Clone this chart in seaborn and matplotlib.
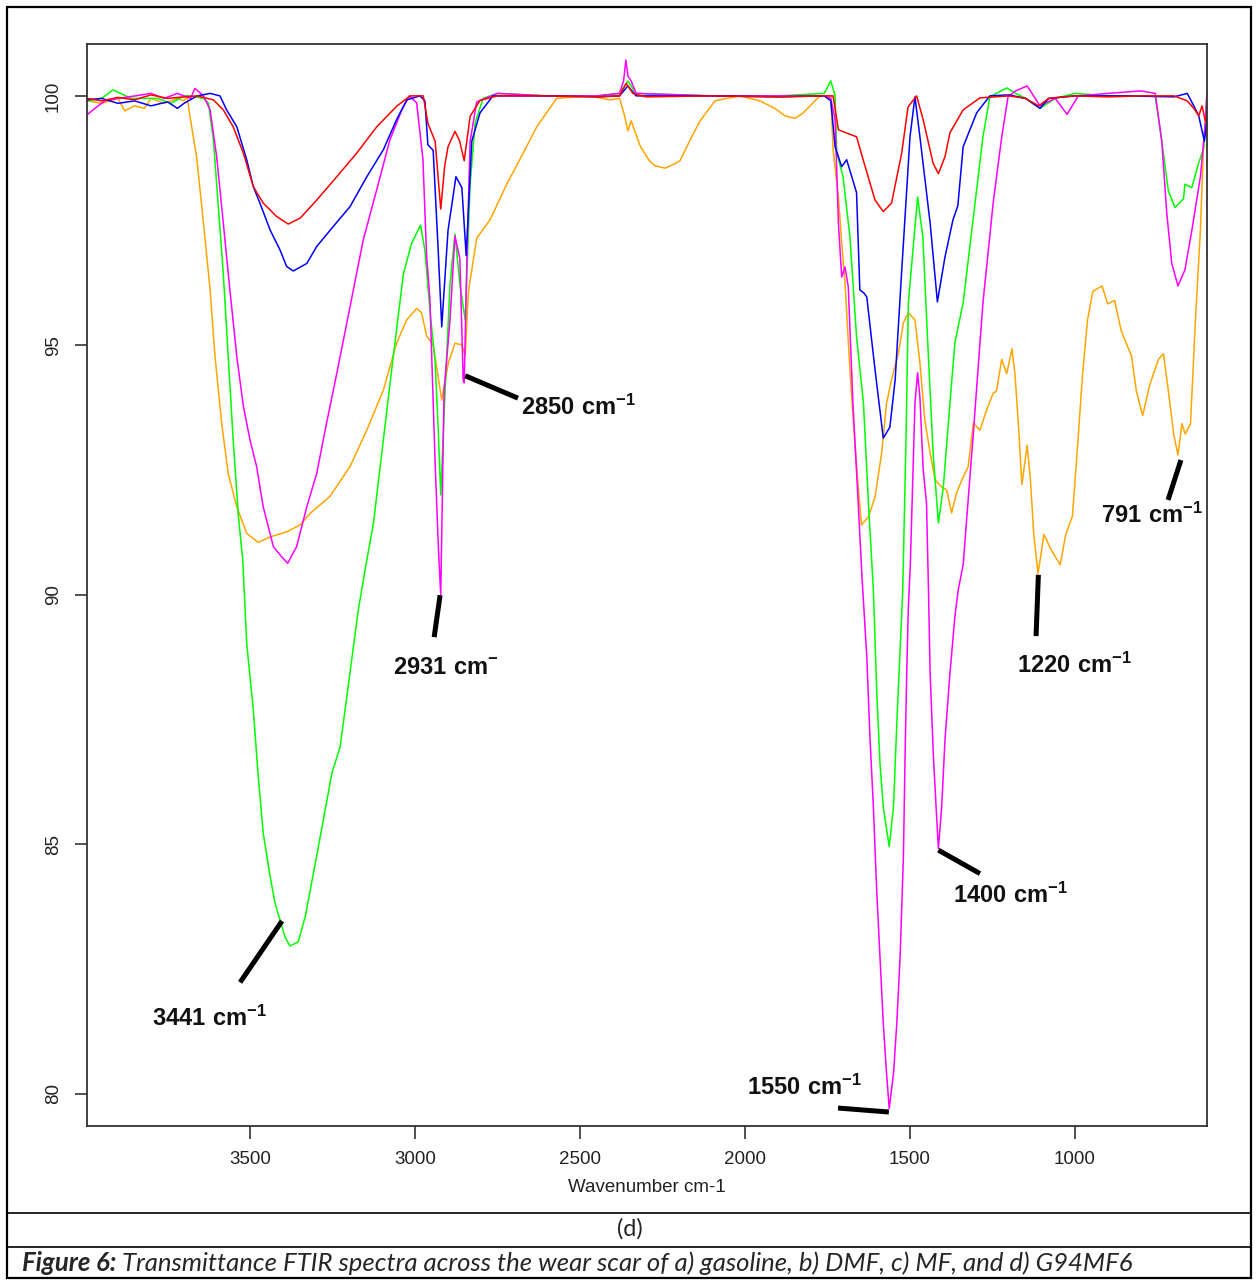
import numpy as np
import pandas as pd
import matplotlib
matplotlib.use('Agg')
import matplotlib.pyplot as plt
import seaborn as sns
from matplotlib.lines import Line2D
from matplotlib.patches import Rectangle

# spectra: wavenumber (cm-1) and transmittance (%)
red_wn = [3994, 3950, 3900, 3850, 3800, 3750, 3700, 3660, 3611, 3581, 3551, 3520, 3490, 3460, 3419,
          3384, 3348, 3298, 3237, 3177, 3116, 3056, 3015, 2975, 2961, 2939, 2922, 2910, 2900, 2879,
          2865, 2851, 2833, 2803, 2750, 2600, 2450, 2380, 2360, 2340, 2300, 2100, 1900, 1760, 1733,
          1717, 1690, 1662, 1642, 1606, 1581, 1556, 1525, 1506, 1480, 1460, 1430, 1414, 1394, 1379,
          1339, 1288, 1200, 1150, 1110, 1080, 1000, 900, 800, 700, 660, 640, 625, 615, 605, 600]
red_t = [99.95, 99.90, 99.97, 99.92, 100.02, 99.95, 99.98, 100.0, 99.92, 99.72, 99.38, 98.85, 98.18, 97.85, 97.58,
         97.43, 97.55, 97.91, 98.38, 98.85, 99.38, 99.79, 100.0, 100.0, 99.45, 99.09, 97.73, 98.6, 98.98, 99.29,
         99.1, 98.70, 99.59, 99.91, 100.0, 100.0, 99.98, 100.0, 100.25, 100.05, 99.98, 100.0, 99.98, 100.0, 100.0,
         99.32, 99.25, 99.18, 98.72, 97.91, 97.68, 97.85, 98.86, 99.78, 100.0, 99.52, 98.65, 98.44, 98.78, 99.26,
         99.72, 99.96, 100.0, 99.95, 99.80, 99.95, 100.0, 99.98, 100.0, 100.0, 99.9, 99.75, 99.6, 99.8, 99.5, 99.6]

blue_wn = [3994, 3950, 3900, 3850, 3800, 3750, 3720, 3700, 3660, 3621, 3591, 3571, 3540, 3510, 3490,
           3470, 3439, 3409, 3389, 3369, 3328, 3298, 3248, 3197, 3146, 3096, 3056, 3025, 2985, 2970,
           2961, 2945, 2930, 2919, 2900, 2876, 2858, 2845, 2828, 2803, 2764, 2600, 2450, 2380, 2355,
           2330, 2100, 1900, 1760, 1740, 1727, 1707, 1692, 1662, 1652, 1640, 1631, 1606, 1581, 1561,
           1545, 1525, 1500, 1485, 1470, 1439, 1417, 1394, 1370, 1355, 1339, 1298, 1258, 1200, 1150,
           1106, 1080, 1000, 850, 700, 660, 640, 625, 615, 608, 600]
blue_t = [99.92, 99.95, 99.85, 99.90, 99.80, 99.88, 99.75, 99.85, 100.0, 100.05, 100.0, 99.72, 99.38, 98.72, 98.18,
          97.85, 97.31, 96.91, 96.58, 96.49, 96.64, 96.98, 97.38, 97.78, 98.38, 98.92, 99.52, 99.92, 100.0, 99.9,
          99.02, 98.91, 96.94, 95.37, 97.30, 98.38, 98.16, 96.80, 99.09, 99.66, 100.0, 100.0, 99.98, 100.0, 100.2,
          100.0, 100.0, 99.98, 100.0, 99.9, 98.98, 98.58, 98.72, 98.06, 96.11, 96.05, 95.97, 94.51, 93.14, 93.36,
          94.31, 96.51, 99.18, 99.98, 99.18, 97.45, 95.87, 96.77, 97.51, 97.8, 98.98, 99.66, 100.0, 100.02, 99.95,
          99.75, 99.95, 100.0, 100.0, 99.98, 100.05, 99.8, 99.6, 99.3, 99.09, 99.5]

green_wn = [3994, 3950, 3915, 3860, 3780, 3740, 3700, 3682, 3640, 3626, 3611, 3596, 3581, 3566, 3551,
            3535, 3522, 3510, 3490, 3475, 3460, 3439, 3424, 3409, 3394, 3379, 3354, 3333, 3308, 3278,
            3252, 3227, 3212, 3192, 3172, 3146, 3126, 3096, 3066, 3035, 3010, 2983, 2970, 2955, 2939,
            2930, 2922, 2909, 2894, 2879, 2864, 2848, 2833, 2818, 2794, 2750, 2600, 2450, 2380, 2355,
            2330, 2100, 1900, 1760, 1740, 1727, 1722, 1703, 1682, 1662, 1641, 1626, 1611, 1601, 1591,
            1581, 1563, 1550, 1540, 1530, 1522, 1512, 1505, 1477, 1461, 1450, 1430, 1414, 1399, 1379,
            1364, 1339, 1309, 1279, 1258, 1207, 1180, 1150, 1106, 1060, 1000, 900, 800, 757, 737,
            717, 697, 671, 667, 646, 625, 610, 600]
green_t = [99.90, 99.95, 100.12, 99.95, 99.95, 99.85, 100.0, 100.0, 99.95, 99.85, 99.12, 97.78, 96.44, 94.77, 93.10,
           91.56, 90.70, 89.02, 87.69, 86.35, 85.22, 84.35, 83.81, 83.48, 83.14, 82.96, 83.04, 83.54, 84.41, 85.48,
           86.42, 86.95, 87.69, 88.69, 89.69, 90.70, 91.43, 93.10, 94.77, 96.44, 97.05, 97.41, 96.9, 95.72, 94.65,
           93.36, 92.0, 94.08, 96.22, 97.23, 96.22, 95.51, 98.23, 99.45, 99.95, 100.05, 100.0, 100.0, 100.05, 100.3,
           100.05, 100.0, 100.0, 100.05, 100.3, 100.0, 98.86, 98.38, 97.17, 95.17, 93.84, 91.84, 90.09, 88.09, 86.62,
           85.75, 84.95, 85.75, 87.42, 88.89, 90.09, 93.16, 95.85, 97.97, 97.17, 95.57, 92.84, 91.44, 92.16, 93.84,
           95.05, 95.85, 97.51, 99.18, 99.98, 100.16, 100.05, 99.95, 99.75, 99.95, 100.05, 100.0, 100.0, 100.0, 99.09,
           98.09, 97.76, 97.94, 98.23, 98.16, 98.66, 98.95, 100.0]

magenta_wn = [3994, 3970, 3940, 3900, 3848, 3800, 3760, 3720, 3680, 3667, 3641, 3621, 3601, 3581, 3561,
              3540, 3520, 3500, 3480, 3460, 3429, 3404, 3386, 3359, 3328, 3298, 3268, 3237, 3197, 3157,
              3116, 3076, 3040, 3017, 2995, 2976, 2965, 2955, 2939, 2929, 2922, 2912, 2894, 2879, 2864,
              2854, 2851, 2842, 2833, 2813, 2750, 2600, 2450, 2380, 2368, 2361, 2355, 2345, 2330, 2100,
              1900, 1760, 1740, 1727, 1717, 1707, 1697, 1687, 1673, 1657, 1645, 1631, 1621, 1611, 1601,
              1591, 1581, 1571, 1563, 1550, 1540, 1530, 1520, 1515, 1510, 1505, 1499, 1485, 1477, 1470,
              1460, 1450, 1444, 1439, 1429, 1421, 1414, 1404, 1394, 1379, 1364, 1354, 1339, 1309, 1279,
              1248, 1222, 1203, 1180, 1145, 1106, 1060, 1024, 990, 900, 800, 757, 737, 722, 707,
              688, 667, 646, 620, 605, 600]
magenta_t = [99.62, 99.75, 99.90, 99.95, 100.0, 100.05, 99.95, 100.05, 99.95, 100.15, 100.0, 99.72, 98.78, 97.45, 96.11,
             94.77, 93.77, 93.10, 92.57, 91.76, 90.96, 90.76, 90.63, 90.96, 91.76, 92.43, 93.44, 94.44, 95.77, 97.11,
             98.12, 99.12, 99.72, 100.0, 99.86, 98.73, 96.8, 95.94, 92.64, 90.92, 89.99, 94.08, 95.51, 97.19, 96.73,
             94.29, 94.25, 96.94, 99.09, 99.88, 100.05, 100.0, 100.0, 100.05, 100.3, 100.72, 100.4, 100.3, 100.05, 100.0,
             100.0, 100.0, 99.95, 99.52, 97.45, 96.37, 96.57, 96.17, 93.84, 91.84, 90.3, 88.76, 87.09, 85.75, 84.08,
             82.74, 81.41, 80.40, 79.70, 80.40, 81.41, 82.74, 84.75, 86.75, 88.42, 89.76, 90.6, 93.84, 94.45, 93.96,
             92.5, 91.84, 90.09, 88.42, 86.75, 85.75, 84.91, 85.75, 87.09, 88.42, 89.56, 90.09, 90.6, 93.16, 95.85,
             97.85, 99.18, 99.98, 100.1, 100.2, 99.8, 99.95, 99.63, 100.0, 100.05, 100.1, 100.05, 99.09, 97.66, 96.65,
             96.19, 96.51, 97.30, 98.38, 99.45, 100.1]

orange_wn = [3994, 3950, 3900, 3880, 3850, 3820, 3800, 3760, 3720, 3700, 3691, 3682, 3662, 3641, 3621,
             3606, 3586, 3566, 3540, 3510, 3475, 3439, 3389, 3348, 3318, 3258, 3197, 3146, 3096, 3056,
             3025, 2995, 2980, 2965, 2945, 2919, 2899, 2879, 2858, 2848, 2838, 2813, 2773, 2722, 2682,
             2631, 2571, 2470, 2409, 2380, 2365, 2355, 2345, 2318, 2290, 2273, 2242, 2210, 2197, 2160,
             2136, 2091, 2015, 1955, 1910, 1879, 1848, 1825, 1803, 1773, 1740, 1733, 1717, 1707, 1697,
             1682, 1672, 1657, 1647, 1626, 1606, 1586, 1571, 1556, 1535, 1520, 1505, 1485, 1470, 1455,
             1439, 1424, 1404, 1389, 1374, 1359, 1339, 1324, 1308, 1288, 1268, 1248, 1238, 1222, 1207,
             1191, 1182, 1171, 1161, 1145, 1135, 1125, 1112, 1094, 1074, 1045, 1028, 1008, 992, 977,
             962, 946, 918, 901, 880, 860, 829, 814, 795, 773, 747, 732, 717, 701, 688,
             676, 666, 650, 635, 620, 610, 600]
orange_t = [99.90, 99.85, 99.95, 99.70, 99.80, 99.75, 99.95, 99.85, 99.95, 99.9, 100.0, 99.59, 98.78, 97.45, 96.11,
            94.77, 93.44, 92.43, 91.76, 91.23, 91.05, 91.16, 91.26, 91.40, 91.63, 91.97, 92.57, 93.30, 94.10, 95.04,
            95.51, 95.74, 95.65, 95.19, 95.01, 93.9, 94.65, 95.04, 95.01, 94.79, 96.08, 97.15, 97.51, 98.23, 98.73,
            99.38, 99.95, 100.0, 99.92, 99.95, 99.6, 99.3, 99.5, 99.0, 98.7, 98.6, 98.55, 98.65, 98.7, 99.2,
            99.5, 99.9, 100.0, 99.9, 99.75, 99.6, 99.55, 99.65, 99.8, 100.0, 100.0, 98.92, 97.97, 97.05, 96.25,
            94.51, 93.5, 92.16, 91.4, 91.56, 91.96, 92.84, 93.84, 94.31, 94.85, 95.45, 95.65, 95.51, 94.65, 93.5,
            92.84, 92.3, 92.16, 92.1, 91.64, 92.04, 92.36, 92.56, 93.44, 93.3, 93.7, 94.04, 94.08, 94.72, 94.43,
            94.93, 94.43, 93.36, 92.21, 93.0, 92.29, 91.21, 90.42, 91.21, 90.92, 90.6, 91.21, 91.57, 93.0, 94.43,
            95.51, 96.08, 96.19, 95.83, 95.90, 95.29, 94.79, 94.08, 93.59, 94.22, 94.72, 94.83, 94.08, 93.22, 92.80,
            93.43, 93.22, 93.43, 95.51, 97.30, 99.09, 99.95]

series_order = ['orange', 'green', 'magenta', 'blue', 'red']
series_colors = {'red': '#FF0000', 'blue': '#0000FF', 'green': '#00FF00',
                 'magenta': '#FF00FF', 'orange': '#FFA500'}

x_ticks = [3500, 3000, 2500, 2000, 1500, 1000]
y_ticks = [80, 85, 90, 95, 100]

# peak labels: text, line from peak, line end, text anchor (left, centre)
peak_labels = [r'$\mathbf{3441\ cm^{-1}}$', r'$\mathbf{2931\ cm^{-}}$', r'$\mathbf{2850\ cm^{-1}}$',
               r'$\mathbf{1550\ cm^{-1}}$', r'$\mathbf{1400\ cm^{-1}}$', r'$\mathbf{1220\ cm^{-1}}$',
               r'$\mathbf{791\ cm^{-1}}$']
peak_lines = [(3403, 83.46, 3530, 82.23), (2924, 89.99, 2942, 89.15), (2848, 94.39, 2688, 93.94),
              (1718, 79.71, 1564, 79.63), (1414, 84.88, 1288, 84.41), (1111, 90.40, 1118, 89.17),
              (679, 92.70, 718, 91.90)]
peak_text_pos = [(3797, 81.51), (3067, 88.53), (2679, 93.76), (1994, 80.13),
                 (1370, 83.98), (1176, 88.59), (921, 91.60)]

frames = []
for name, wn, t in [('red', red_wn, red_t), ('blue', blue_wn, blue_t), ('green', green_wn, green_t),
                    ('magenta', magenta_wn, magenta_t), ('orange', orange_wn, orange_t)]:
    frames.append(pd.DataFrame({'wn': wn, 'T': t, 'series': name}))
df = pd.concat(frames, ignore_index=True)

sns.set_style('white')
plt.rcParams['font.family'] = ['Liberation Sans', 'DejaVu Sans']
plt.rcParams['mathtext.fontset'] = 'custom'
plt.rcParams['mathtext.rm'] = 'Liberation Sans'
plt.rcParams['mathtext.bf'] = 'Liberation Sans:bold'

fig = plt.figure(figsize=(12.6, 12.81), dpi=100)
ax = fig.add_axes([87 / 1260, 1 - 1126 / 1281, 1120 / 1260, 1082 / 1281])

sns.lineplot(data=df, x='wn', y='T', hue='series', hue_order=series_order, palette=series_colors,
             estimator=None, sort=False, legend=False, linewidth=1.1, ax=ax)

for (w1, t1, w2, t2), label, (tx, ty) in zip(peak_lines, peak_labels, peak_text_pos):
    ax.plot([w1, w2], [t1, t2], color='black', lw=3.6, solid_capstyle='butt')
    ax.text(tx, ty, label, fontsize=17, ha='left', va='center', color='#111111')

ax.set_xlim(3994, 600)
ax.set_ylim(79.35, 101.04)
ax.set_xticks(x_ticks)
ax.set_yticks(y_ticks)
ax.set_xlabel('Wavenumber cm-1', fontsize=13.5, color='#222222', labelpad=8)
ax.set_ylabel('')
ax.tick_params(direction='out', length=9, width=1.2, color='#333333', labelsize=13.5,
               labelcolor='#222222', pad=9, bottom=True, left=True)
plt.setp(ax.get_yticklabels(), rotation=90, va='center')
for s in ax.spines.values():
    s.set_color('#333333')
    s.set_linewidth(1.3)

# page frame around the figure and caption rows
fig.add_artist(Rectangle((7 / 1260, 1 - 1278 / 1281), 1244 / 1260, 1271 / 1281, transform=fig.transFigure,
                         fill=False, edgecolor='black', lw=1.6))
for yy in [1213, 1247]:
    fig.add_artist(Line2D([7 / 1260, 1251 / 1260], [1 - yy / 1281, 1 - yy / 1281],
                          transform=fig.transFigure, color='black', lw=1.2))

fig.text(0.5, 1 - 1229 / 1281, '(d)', fontsize=17, fontfamily='Lato', ha='center', va='center')
t1 = fig.text(22 / 1260, 1 - 1263 / 1281, 'Figure 6:', fontsize=18.5, fontfamily='Lato',
              fontweight='bold', fontstyle='italic', ha='left', va='center')
fig.canvas.draw()
bb = t1.get_window_extent()
fig.text(bb.x1 / 1260 + 6 / 1260, 1 - 1263 / 1281,
         'Transmittance FTIR spectra across the wear scar of a) gasoline, b) DMF, c) MF, and d) G94MF6',
         fontsize=18.5, fontfamily='Lato', fontstyle='italic', ha='left', va='center')

fig.savefig('out.png', dpi=100)
